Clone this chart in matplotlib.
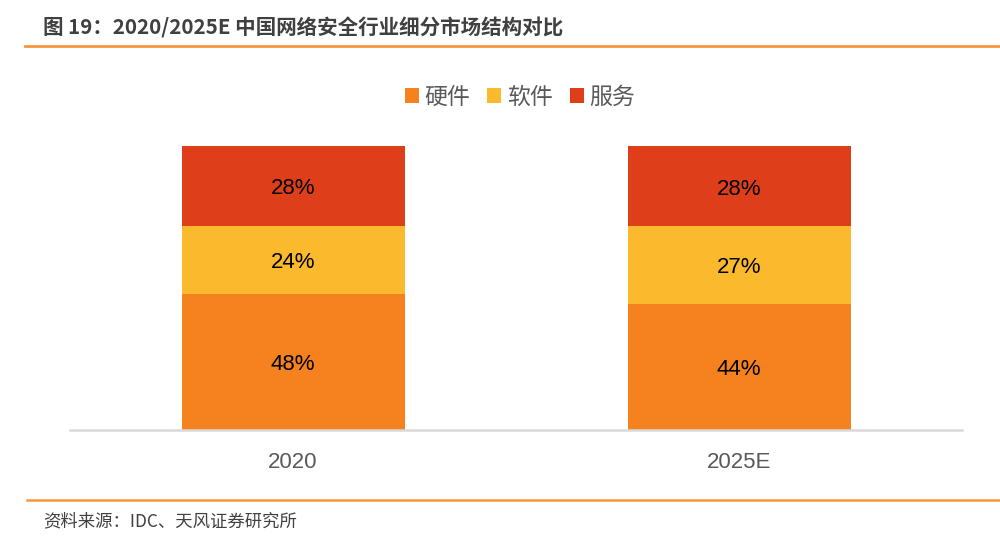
import matplotlib
matplotlib.use("Agg")
import matplotlib.pyplot as plt
from matplotlib.patches import Patch
from matplotlib.lines import Line2D

plt.rcParams['font.family'] = ['Noto Sans CJK SC', 'DejaVu Sans']

# data
years = ["2020", "2025E"]
segments = ["硬件", "软件", "服务"]
hardware = [48, 44]
software = [24, 27]
services = [28, 28]
colors = ["#F5821F", "#FBBA2D", "#DF3E1B"]

fig = plt.figure(figsize=(10, 5.44), dpi=100)
ax = fig.add_axes([0.07, 1 - 430 / 544, 0.892, (430 - 146) / 544])

# 100% stacked columns
series = [hardware, software, services]
totals = [sum(v) for v in zip(*series)]
x = list(range(len(years)))
bottom = [0.0] * len(years)
for vals, col in zip(series, colors):
    h = [v / t * 100 for v, t in zip(vals, totals)]
    ax.bar(x, h, width=0.5, bottom=bottom, color=col, edgecolor="none")
    for xi, b, hi, v in zip(x, bottom, h, vals):
        ax.text(xi, b + hi / 2 - 1, f"{v}%", ha="center", va="center",
                fontsize=16, color="#000000", family="Liberation Sans")
    bottom = [b + hi for b, hi in zip(bottom, h)]

ax.set_xlim(-0.5, 1.5)
ax.set_ylim(0, 100)
ax.set_yticks([])
ax.set_xticks(x)
ax.set_xticklabels(years, fontsize=16, color="#595959", family="Liberation Sans")
ax.tick_params(axis="x", length=0, pad=16)
for s in ["top", "right", "left"]:
    ax.spines[s].set_visible(False)
ax.spines["bottom"].set_color("#D9D9D9")
ax.spines["bottom"].set_linewidth(1.8)

handles = [Patch(facecolor=c, edgecolor="none") for c in colors]
leg = fig.legend(handles, segments, loc="center", bbox_to_anchor=(0.52, 1 - 97 / 544),
                 ncol=3, frameon=False, fontsize=16.5, handlelength=0.6, handleheight=0.6,
                 handletextpad=0.25, columnspacing=0.75)
for t in leg.get_texts():
    t.set_color("#595959")

# title and source
fig.text(0.043, 1 - 28 / 544, "图 19：2020/2025E 中国网络安全行业细分市场结构对比",
         fontsize=14.8, fontweight="bold", color="#404040", va="center")
fig.add_artist(Line2D([0.025, 1.0], [1 - 46 / 544] * 2, color="#F7963C", linewidth=2))
fig.add_artist(Line2D([0.027, 1.0], [1 - 500 / 544] * 2, color="#F7963C", linewidth=1.8))
fig.text(0.043, 1 - 521 / 544, "资料来源：IDC、天风证券研究所", fontsize=12.5,
         color="#404040", va="center")

fig.savefig("out.png", dpi=100)
